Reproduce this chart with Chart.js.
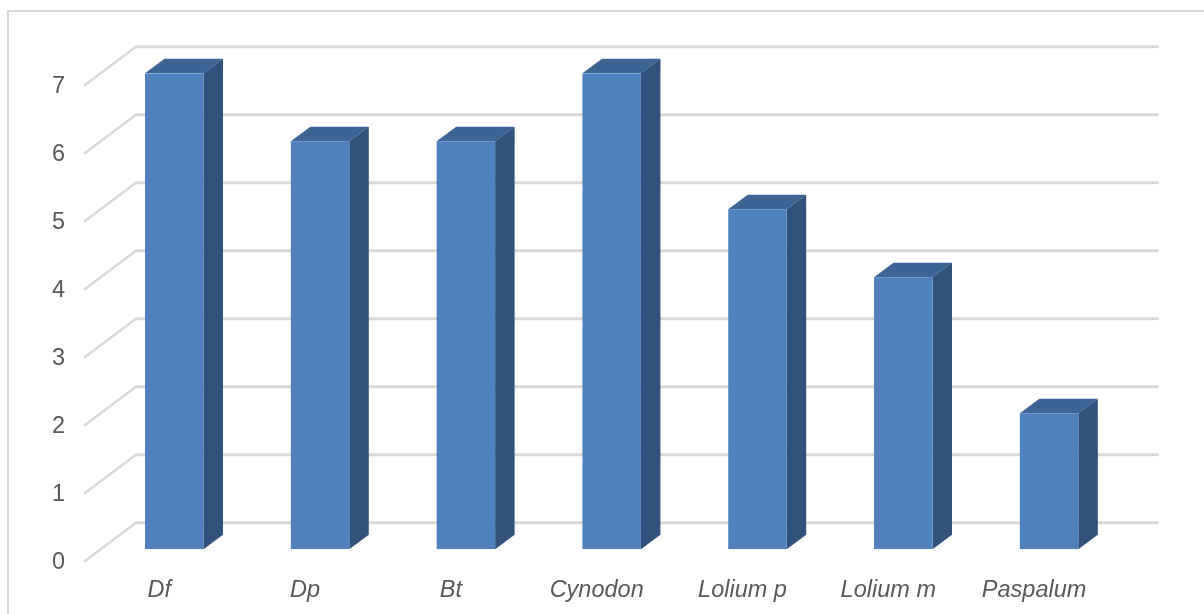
<!DOCTYPE html>
<html>
<head>
<meta charset="utf-8">
<style>html,body{margin:0;padding:0;background:#fff}canvas{display:block}</style>
<script src="https://cdn.jsdelivr.net/npm/chart.js@4"></script>
</head>
<body>
<canvas id="chart" width="1204" height="614"></canvas>
<script>
const categories = ['Df', 'Dp', 'Bt', 'Cynodon', 'Lolium p', 'Lolium m', 'Paspalum'];
const counts = [7, 6, 6, 7, 5, 4, 2];

const GRID = '#d9d9d9';
const TEXT = '#595959';
const FRONT = '#4f81bd';
const TOP = '#3c6494';
const SIDE = '#30527c';

// Oblique projection used for the bars' depth and the back wall.
const DEPTH_X = 19.5, DEPTH_Y = 14.5;
const WALL_LEFT = 136, WALL_RIGHT = 1157.5, WALL_RISE = 26.6;
const FLOOR_LEFT = 85, FLOOR_DROP = 11.7;

const frame = {
  id: 'frame',
  beforeDraw(chart) {
    const c = chart.ctx;
    c.save();
    c.fillStyle = '#fff';
    c.fillRect(0, 0, chart.width, chart.height);
    c.strokeStyle = GRID;
    c.lineWidth = 2;
    c.beginPath();
    c.moveTo(8, chart.height);
    c.lineTo(8, 11);
    c.lineTo(chart.width, 11);
    c.stroke();
    c.restore();
  }
};

const depth = {
  id: 'depth',
  beforeDatasetsDraw(chart) {
    const c = chart.ctx, y = chart.scales.y;
    c.save();
    // Grid: a slanted stroke on the side wall, then the rule along the back wall.
    c.strokeStyle = GRID;
    c.lineCap = 'round';
    y.ticks.forEach(t => {
      const py = y.getPixelForValue(t.value);
      c.lineWidth = 2.4;
      c.beginPath();
      c.moveTo(FLOOR_LEFT, py + FLOOR_DROP);
      c.lineTo(WALL_LEFT, py - WALL_RISE);
      c.stroke();
      c.lineWidth = 3;
      c.beginPath();
      c.moveTo(WALL_LEFT, py - WALL_RISE);
      c.lineTo(WALL_RIGHT, py - WALL_RISE);
      c.stroke();
    });
    // Top and side faces of every column.
    const base = y.getPixelForValue(0);
    chart.getDatasetMeta(0).data.forEach(bar => {
      const l = bar.x - bar.width / 2, r = bar.x + bar.width / 2, t = bar.y;
      c.fillStyle = TOP;
      c.beginPath();
      c.moveTo(l, t);
      c.lineTo(l + DEPTH_X, t - DEPTH_Y);
      c.lineTo(r + DEPTH_X, t - DEPTH_Y);
      c.lineTo(r, t);
      c.closePath();
      c.fill();
      c.fillStyle = SIDE;
      c.beginPath();
      c.moveTo(r, t);
      c.lineTo(r + DEPTH_X, t - DEPTH_Y);
      c.lineTo(r + DEPTH_X, base - DEPTH_Y);
      c.lineTo(r, base);
      c.closePath();
      c.fill();
    });
    c.restore();
  }
};

new Chart(document.getElementById('chart'), {
  type: 'bar',
  data: {
    labels: categories,
    datasets: [{
      data: counts,
      backgroundColor: FRONT,
      borderWidth: 0,
      barPercentage: 0.401,
      categoryPercentage: 1
    }]
  },
  options: {
    responsive: false,
    animation: false,
    layout: { padding: { left: 8, right: 82, top: 73.3, bottom: 0 } },
    plugins: { legend: { display: false }, tooltip: { enabled: false }, title: { display: false } },
    scales: {
      x: {
        grid: { display: false, drawTicks: false },
        border: { display: false },
        afterFit(s) { s.height = 64.7; },
        ticks: {
          color: TEXT,
          font: { family: '"Liberation Sans"', size: 23.5, style: 'italic' },
          padding: 27,
          labelOffset: -15,
          maxRotation: 0,
          minRotation: 0,
          autoSkip: false
        }
      },
      y: {
        min: 0,
        max: 7,
        grid: { display: false, drawTicks: false },
        border: { display: false },
        afterFit(s) { s.width = 93.35; },
        ticks: {
          stepSize: 1,
          color: TEXT,
          font: { family: '"Liberation Sans"', size: 23.5 },
          padding: 36.35,
          labelOffset: 13
        }
      }
    }
  },
  plugins: [frame, depth]
});
</script>
</body>
</html>
